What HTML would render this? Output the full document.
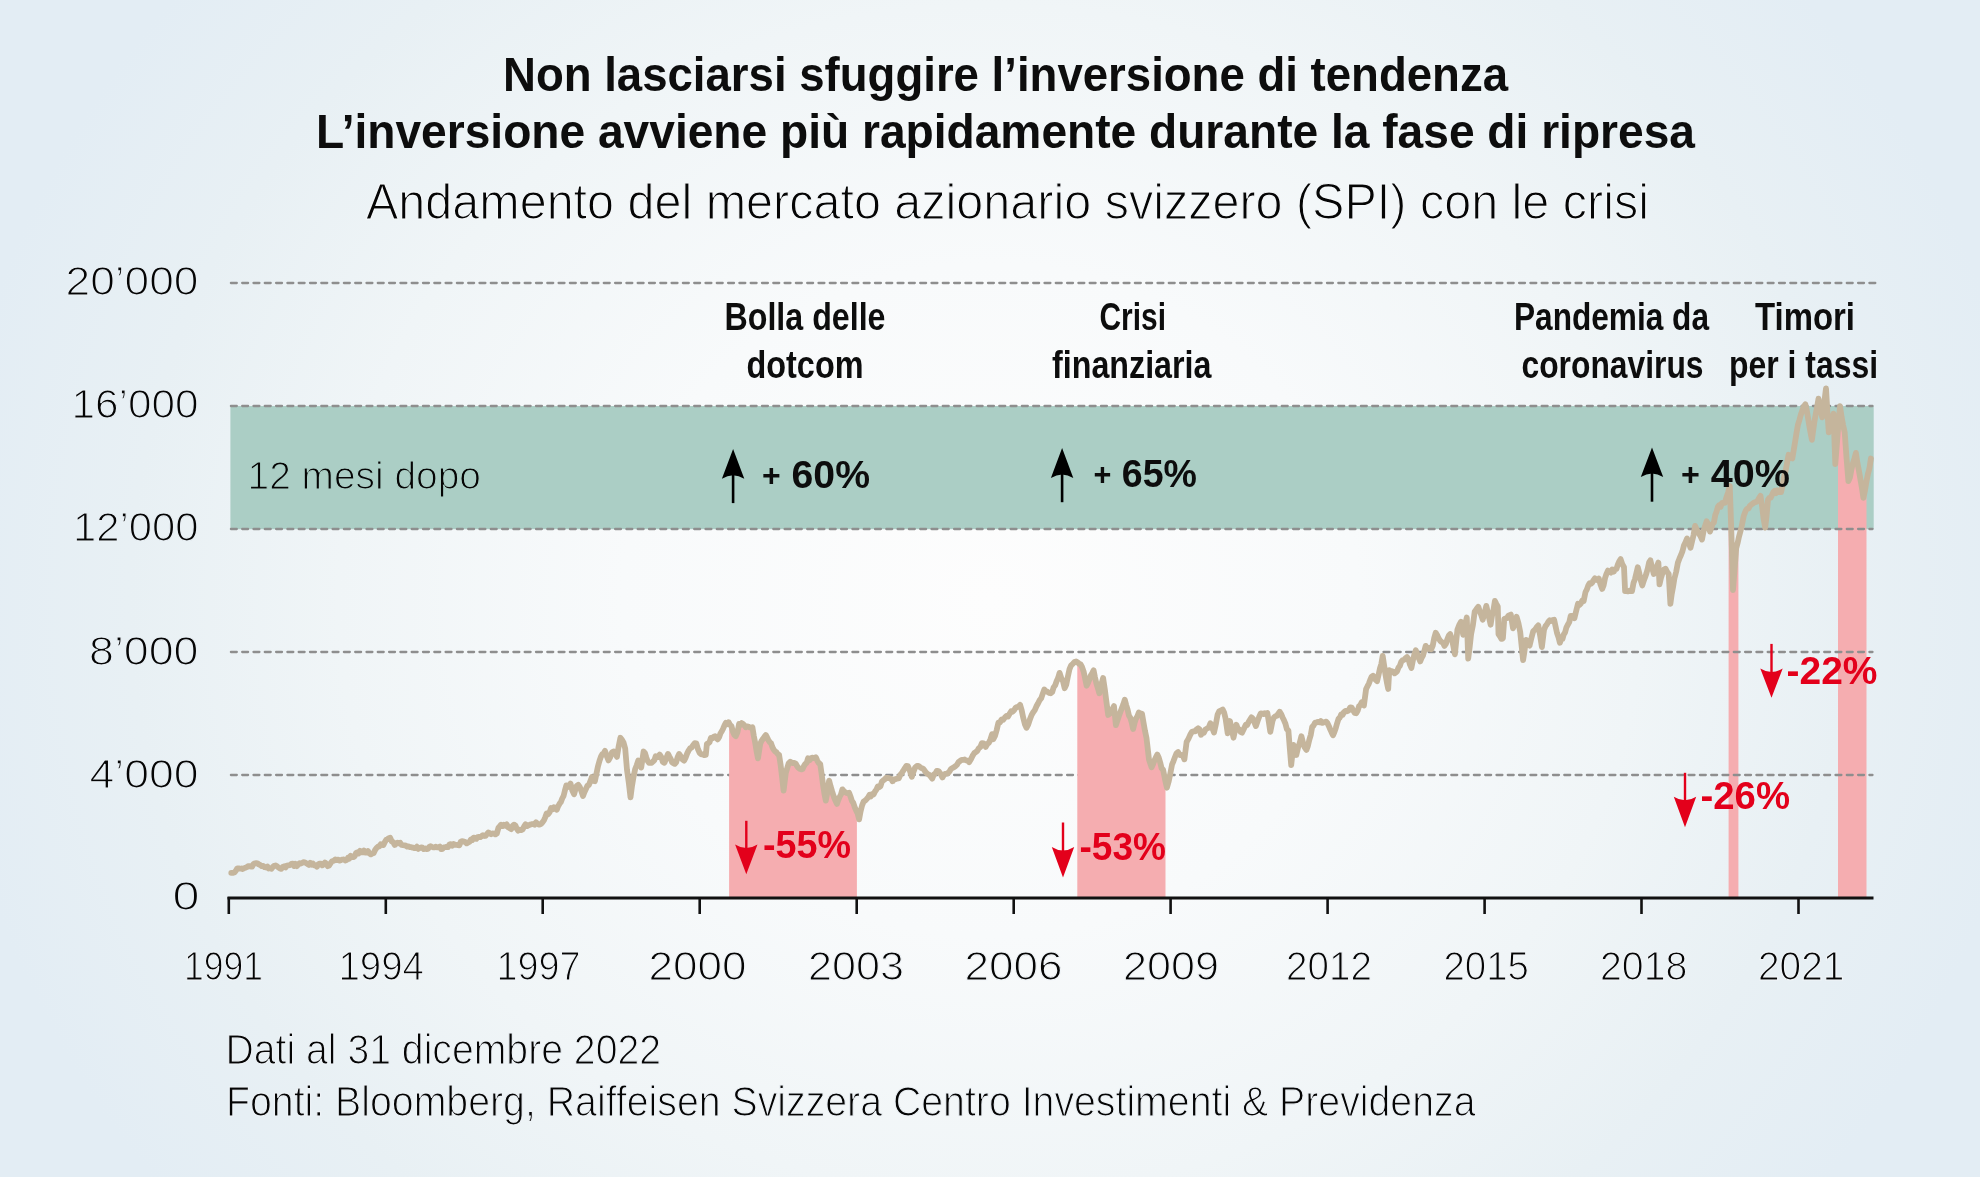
<!DOCTYPE html>
<html><head><meta charset="utf-8"><style>
html,body{margin:0;padding:0;width:1980px;height:1177px;overflow:hidden;}
body{background:radial-gradient(ellipse 1050px 960px at 990px 600px,#fdfdfd 0%,#f8fafb 35%,#f0f5f7 62%,#e8f0f4 82%,#e3edf4 100%);}
svg{position:absolute;left:0;top:0;will-change:transform;}
text{font-family:"Liberation Sans",sans-serif;}
</style></head><body>
<svg width="1980" height="1177" viewBox="0 0 1980 1177">
<rect x="230.4" y="406" width="1643.3" height="123.2" fill="#abcec5"/>
<polygon points="1728.6,898.0 1728.6,490.1 1729.8,486.0 1731.5,537.0 1733.0,590.0 1736.2,548.3 1738.4,539.5 1738.4,898.0" fill="#f5adb0"/>
<polygon points="1838.0,898.0 1838.0,430.8 1840.0,406.2 1844.7,432.4 1848.4,481.0 1855.9,452.9 1863.4,497.8 1866.5,481.6 1866.5,898.0" fill="#f5adb0"/>
<line x1="230.9" y1="283" x2="1876.5" y2="283" stroke="#8e8e8e" stroke-width="2.3" stroke-linecap="round" stroke-dasharray="5.9 5.4"/>
<line x1="230.9" y1="406" x2="1872.5" y2="406" stroke="#8e8e8e" stroke-width="2.3" stroke-linecap="round" stroke-dasharray="5.9 5.4"/>
<line x1="230.9" y1="529" x2="1872.5" y2="529" stroke="#8e8e8e" stroke-width="2.3" stroke-linecap="round" stroke-dasharray="5.9 5.4"/>
<line x1="230.9" y1="652" x2="1872.5" y2="652" stroke="#8e8e8e" stroke-width="2.3" stroke-linecap="round" stroke-dasharray="5.9 5.4"/>
<line x1="230.9" y1="775" x2="1872.5" y2="775" stroke="#8e8e8e" stroke-width="2.3" stroke-linecap="round" stroke-dasharray="5.9 5.4"/>
<polygon points="729.1,898.0 729.1,723.2 735.8,736.1 739.1,723.9 745.8,727.2 752.4,727.2 758.0,758.3 760.2,743.9 765.8,735.0 772.4,747.2 779.1,755.0 783.6,790.6 785.8,772.8 790.2,761.7 801.3,769.4 808.0,758.3 815.8,757.2 820.2,763.9 825.8,800.6 829.1,780.6 836.9,803.9 842.4,789.4 849.1,792.8 854.7,807.2 856.9,813.3 856.9,898.0" fill="#f5adb0"/>
<polygon points="1077.3,898.0 1077.3,662.6 1082.1,667.2 1086.6,685.7 1093.6,670.4 1099.3,693.3 1103.1,678.0 1108.2,715.0 1114.0,706.1 1115.9,725.2 1124.8,699.7 1133.1,729.0 1138.8,712.5 1142.0,713.7 1146.5,738.0 1149.0,759.6 1151.6,767.3 1157.3,754.5 1163.1,769.8 1165.5,781.1 1165.5,898.0" fill="#f5adb0"/>
<line x1="227.5" y1="898" x2="1873.5" y2="898" stroke="#111" stroke-width="2.8"/>
<line x1="228.8" y1="897" x2="228.8" y2="914" stroke="#111" stroke-width="2.6"/>
<line x1="385.8" y1="897" x2="385.8" y2="914" stroke="#111" stroke-width="2.6"/>
<line x1="542.7" y1="897" x2="542.7" y2="914" stroke="#111" stroke-width="2.6"/>
<line x1="699.7" y1="897" x2="699.7" y2="914" stroke="#111" stroke-width="2.6"/>
<line x1="856.7" y1="897" x2="856.7" y2="914" stroke="#111" stroke-width="2.6"/>
<line x1="1013.7" y1="897" x2="1013.7" y2="914" stroke="#111" stroke-width="2.6"/>
<line x1="1170.6" y1="897" x2="1170.6" y2="914" stroke="#111" stroke-width="2.6"/>
<line x1="1327.6" y1="897" x2="1327.6" y2="914" stroke="#111" stroke-width="2.6"/>
<line x1="1484.6" y1="897" x2="1484.6" y2="914" stroke="#111" stroke-width="2.6"/>
<line x1="1641.5" y1="897" x2="1641.5" y2="914" stroke="#111" stroke-width="2.6"/>
<line x1="1798.5" y1="897" x2="1798.5" y2="914" stroke="#111" stroke-width="2.6"/>
<path d="M231.3 872.8 L233.0 872.9 L234.7 872.2 L236.0 870.5 L237.3 868.4 L238.6 868.3 L239.9 868.7 L241.3 868.5 L242.6 869.0 L244.0 868.2 L245.3 867.8 L246.7 867.2 L248.0 866.1 L249.4 866.2 L250.7 866.5 L252.1 866.6 L253.4 864.2 L254.8 863.3 L256.1 863.2 L257.5 863.4 L258.8 864.4 L260.2 865.0 L261.7 866.1 L263.2 865.9 L264.7 867.2 L266.1 867.5 L267.4 866.5 L268.8 868.5 L270.1 868.2 L271.5 868.7 L272.8 867.0 L274.2 865.8 L275.5 865.5 L276.9 866.1 L278.4 867.5 L279.8 868.5 L281.3 868.9 L282.7 867.0 L284.2 866.3 L285.6 867.4 L287.0 865.5 L288.4 865.3 L289.9 865.1 L291.3 863.9 L292.7 863.7 L294.1 866.0 L295.5 863.9 L296.9 866.1 L298.2 864.5 L299.6 863.2 L300.9 863.6 L302.3 862.8 L303.6 862.2 L304.9 862.3 L306.2 863.2 L307.6 864.0 L308.9 864.9 L310.2 862.8 L311.5 864.6 L312.9 863.5 L314.2 865.4 L315.6 865.4 L316.9 866.7 L318.2 864.4 L319.6 863.7 L320.9 863.6 L322.3 865.3 L323.6 864.4 L325.0 862.5 L326.4 863.8 L327.7 866.2 L329.1 865.6 L330.7 863.0 L332.2 861.2 L333.8 860.7 L335.3 859.4 L336.9 860.0 L338.3 859.6 L339.7 860.6 L341.1 860.0 L342.4 859.6 L343.8 859.5 L345.2 860.5 L346.6 860.0 L348.0 857.8 L349.3 858.7 L350.7 855.8 L352.0 857.0 L353.3 857.1 L354.6 856.4 L356.0 853.1 L357.3 852.4 L358.6 853.4 L360.0 850.8 L361.3 852.2 L362.6 852.4 L364.0 850.6 L365.3 852.6 L366.7 852.5 L368.0 851.1 L369.4 853.4 L370.8 854.4 L372.2 853.6 L373.7 853.0 L375.1 850.0 L376.6 847.9 L378.0 846.7 L379.3 846.4 L380.7 844.2 L382.0 844.7 L383.4 845.1 L384.7 842.2 L386.1 839.9 L387.4 839.2 L388.8 838.3 L390.2 837.8 L391.7 841.4 L393.2 842.1 L394.7 845.0 L396.1 843.7 L397.4 842.6 L398.8 843.3 L400.2 842.8 L401.6 845.0 L403.0 845.2 L404.4 845.3 L405.8 845.6 L407.1 846.5 L408.5 846.4 L409.9 847.1 L411.3 847.2 L412.7 847.6 L414.1 848.1 L415.5 848.1 L416.9 846.7 L418.3 848.9 L419.7 847.9 L421.1 847.4 L422.4 847.7 L423.8 849.1 L425.2 848.5 L426.6 849.1 L428.0 848.9 L429.3 847.0 L430.6 846.1 L431.9 846.9 L433.2 847.4 L434.5 847.3 L435.8 846.7 L437.2 847.3 L438.5 847.4 L439.9 846.6 L441.2 849.1 L442.6 848.8 L443.9 847.4 L445.3 847.2 L446.6 846.9 L448.0 847.2 L449.4 844.5 L450.8 844.1 L452.3 845.7 L453.7 844.0 L455.1 844.9 L456.5 844.9 L457.9 845.0 L459.3 845.3 L460.7 841.9 L462.1 841.2 L463.5 841.3 L465.1 842.0 L466.6 843.4 L468.2 842.5 L469.6 841.7 L470.9 839.4 L472.3 840.1 L473.6 837.7 L475.0 837.9 L476.3 838.8 L477.7 837.1 L479.0 836.9 L480.4 837.0 L481.7 836.1 L483.0 835.1 L484.4 836.0 L485.7 835.8 L487.1 833.9 L488.4 832.4 L489.8 833.3 L491.2 834.2 L492.6 833.5 L494.0 833.6 L495.4 834.4 L496.8 833.6 L498.5 827.6 L499.8 826.2 L501.1 824.7 L502.5 826.0 L503.8 824.8 L505.1 825.8 L506.7 824.4 L508.2 827.3 L509.8 828.2 L511.2 829.1 L512.6 825.9 L514.0 824.6 L515.4 825.4 L516.8 828.8 L518.2 830.6 L519.7 829.6 L521.2 830.2 L522.6 829.5 L524.1 826.4 L525.6 824.3 L527.1 826.1 L528.6 825.3 L530.1 824.6 L531.6 824.2 L533.0 824.0 L534.5 824.8 L536.0 822.3 L537.3 823.5 L538.6 824.5 L539.9 824.5 L541.2 823.7 L542.5 822.3 L543.9 820.4 L545.3 817.1 L546.7 813.4 L548.2 814.2 L549.7 812.0 L551.1 808.1 L552.6 809.2 L554.0 807.2 L555.4 808.9 L556.8 809.8 L558.1 806.3 L559.5 803.8 L560.9 802.0 L562.2 798.5 L563.6 795.9 L564.9 790.6 L566.3 785.4 L567.7 787.0 L569.1 786.4 L570.5 783.6 L572.3 790.5 L574.1 794.3 L575.5 789.3 L576.8 785.8 L578.2 784.8 L579.8 786.9 L581.4 791.4 L583.0 796.1 L584.5 792.1 L585.9 789.0 L587.4 785.8 L588.9 784.9 L590.4 781.1 L591.9 777.1 L593.4 780.9 L594.9 781.2 L596.5 773.3 L598.0 766.2 L599.6 760.4 L601.0 756.5 L602.3 754.2 L603.6 753.6 L605.0 750.9 L606.8 756.2 L608.5 760.4 L610.3 757.1 L612.1 752.1 L613.7 751.5 L615.3 753.4 L616.9 756.9 L618.6 746.7 L620.4 737.8 L622.0 739.8 L623.6 742.7 L625.2 748.5 L627.0 769.9 L628.8 782.8 L630.5 797.3 L632.0 785.9 L633.5 777.1 L635.1 769.3 L636.7 765.2 L638.3 760.4 L639.8 761.8 L641.2 767.6 L643.6 751.5 L645.0 753.2 L646.3 757.4 L647.6 760.9 L649.0 762.8 L650.3 762.8 L651.7 762.8 L653.0 761.5 L654.4 760.2 L655.7 756.2 L657.0 756.8 L658.4 757.1 L659.7 754.5 L661.3 757.0 L662.8 762.0 L664.4 762.8 L666.2 758.4 L668.0 753.9 L669.3 756.4 L670.7 758.9 L672.0 762.1 L673.4 763.2 L674.7 763.9 L676.2 762.3 L677.6 757.2 L679.1 753.9 L680.8 756.4 L682.4 759.4 L684.1 760.6 L685.6 757.6 L687.2 753.4 L688.7 750.4 L690.2 748.3 L691.7 747.4 L693.2 745.1 L694.8 743.2 L696.3 743.3 L698.0 749.2 L699.6 752.8 L701.3 754.4 L702.8 754.3 L704.3 755.2 L705.8 755.0 L706.9 743.9 L708.2 743.3 L709.6 742.0 L710.9 738.0 L712.3 738.4 L713.6 736.7 L715.0 736.3 L716.4 738.1 L717.7 739.3 L719.1 737.2 L720.4 733.5 L721.8 731.3 L723.1 728.7 L724.5 725.3 L725.8 722.8 L727.2 724.1 L728.6 722.2 L730.0 724.8 L731.5 726.2 L732.9 731.5 L734.4 735.0 L735.8 736.1 L737.5 732.2 L739.1 723.9 L740.4 725.1 L741.8 723.1 L743.1 723.9 L744.5 725.4 L745.8 727.2 L747.1 726.4 L748.4 726.6 L749.8 727.4 L751.1 727.7 L752.4 727.2 L753.8 735.7 L755.2 742.8 L756.6 751.4 L758.0 758.3 L760.2 743.9 L761.6 740.7 L763.0 738.9 L764.4 736.8 L765.8 735.0 L767.1 737.4 L768.4 740.1 L769.8 742.3 L771.1 743.3 L772.4 747.2 L773.7 749.7 L775.1 751.3 L776.4 752.2 L777.8 754.1 L779.1 755.0 L780.6 764.7 L782.1 777.4 L783.6 790.6 L785.8 772.8 L787.3 767.8 L788.7 763.2 L790.2 761.7 L791.6 762.7 L793.0 763.2 L794.4 762.9 L795.8 763.8 L797.1 766.1 L798.5 767.8 L799.9 768.8 L801.3 769.4 L802.6 769.0 L804.0 765.9 L805.3 763.9 L806.7 762.7 L808.0 758.3 L809.6 760.3 L811.1 758.0 L812.7 757.6 L814.2 758.2 L815.8 757.2 L817.3 760.7 L818.7 763.0 L820.2 763.9 L821.6 773.8 L823.0 784.5 L824.4 793.6 L825.8 800.6 L827.5 791.5 L829.1 780.6 L830.7 786.7 L832.2 791.7 L833.8 796.6 L835.3 800.4 L836.9 803.9 L838.3 800.1 L839.6 797.0 L841.0 794.4 L842.4 789.4 L843.7 791.0 L845.1 792.2 L846.4 792.8 L847.8 793.1 L849.1 792.8 L850.5 796.5 L851.9 800.8 L853.3 802.9 L854.7 807.2 L856.2 810.7 L857.6 813.4 L859.1 819.4 L860.6 811.3 L862.1 805.4 L863.6 801.7 L865.1 800.6 L866.5 799.2 L868.0 797.6 L869.5 794.8 L870.9 796.3 L872.4 793.9 L873.7 794.4 L875.1 791.3 L876.4 789.7 L877.8 786.4 L879.1 787.2 L880.5 786.1 L881.9 781.7 L883.3 780.4 L884.7 779.4 L886.0 777.9 L887.3 777.8 L888.7 778.1 L890.0 778.5 L891.3 778.8 L892.6 781.3 L894.1 779.5 L895.7 779.1 L897.2 778.5 L898.8 778.4 L900.3 774.9 L901.8 773.0 L903.3 770.7 L904.9 768.1 L906.4 765.8 L907.9 766.0 L909.8 770.7 L911.8 776.8 L913.5 771.6 L915.2 767.4 L916.9 766.0 L918.4 766.0 L919.9 767.0 L921.5 768.2 L923.0 768.5 L924.5 770.5 L926.0 772.6 L927.6 773.9 L929.1 774.8 L930.7 776.5 L932.2 778.7 L933.8 774.6 L935.4 773.4 L936.9 770.8 L938.5 771.1 L940.5 773.8 L942.4 777.5 L943.8 775.0 L945.2 773.9 L946.7 773.6 L948.1 773.0 L949.5 771.4 L950.9 769.1 L952.4 768.0 L953.8 767.3 L955.4 766.3 L957.0 764.7 L958.6 762.1 L960.2 760.9 L961.7 759.8 L963.2 759.8 L964.7 759.5 L966.1 760.5 L967.6 760.7 L969.1 762.2 L970.8 759.5 L972.5 755.9 L974.2 753.2 L975.7 752.1 L977.3 750.9 L978.8 748.2 L980.4 746.9 L981.9 743.1 L983.8 743.3 L985.7 746.9 L987.3 744.0 L988.9 742.7 L990.5 739.2 L992.1 734.1 L993.3 739.2 L995.0 735.9 L996.7 730.0 L998.4 722.7 L1000.0 722.4 L1001.6 719.5 L1003.2 719.8 L1004.8 717.6 L1006.4 715.9 L1008.0 716.6 L1009.6 713.8 L1011.2 711.2 L1012.7 711.7 L1014.2 710.0 L1015.7 707.6 L1017.1 707.0 L1018.6 706.5 L1020.1 704.8 L1021.7 710.3 L1023.3 718.1 L1024.9 724.2 L1026.5 727.8 L1028.2 724.7 L1029.9 719.4 L1031.6 715.0 L1033.2 712.3 L1034.8 710.1 L1036.4 706.3 L1038.0 703.5 L1039.6 700.3 L1041.2 698.2 L1042.7 693.9 L1044.3 689.5 L1045.9 691.2 L1047.5 691.8 L1049.1 692.9 L1050.7 693.3 L1052.2 692.1 L1053.7 687.2 L1055.2 685.3 L1056.6 681.3 L1058.1 678.0 L1059.6 672.9 L1061.3 678.1 L1063.0 681.2 L1064.7 688.2 L1066.3 684.5 L1067.9 676.5 L1069.5 669.2 L1071.1 665.3 L1072.8 663.8 L1074.5 662.1 L1076.2 661.5 L1077.7 662.4 L1079.2 663.9 L1080.6 664.3 L1082.1 667.2 L1083.6 671.4 L1085.1 678.4 L1086.6 685.7 L1088.0 683.0 L1089.4 679.5 L1090.8 675.5 L1092.2 673.1 L1093.6 670.4 L1095.0 677.4 L1096.4 683.4 L1097.9 688.3 L1099.3 693.3 L1101.2 684.8 L1103.1 678.0 L1104.8 689.1 L1106.5 702.3 L1108.2 715.0 L1109.7 713.6 L1111.1 712.8 L1112.5 709.1 L1114.0 706.1 L1115.9 725.2 L1117.4 720.7 L1118.9 716.0 L1120.3 712.3 L1121.8 708.3 L1123.3 704.4 L1124.8 699.7 L1126.2 705.0 L1127.6 709.7 L1128.9 715.4 L1130.3 717.7 L1131.7 722.3 L1133.1 729.0 L1134.5 723.2 L1135.9 718.7 L1137.4 716.2 L1138.8 712.5 L1140.4 713.3 L1142.0 713.7 L1143.5 722.6 L1145.0 730.9 L1146.5 738.0 L1149.0 759.6 L1151.6 767.3 L1153.0 764.2 L1154.4 760.4 L1155.9 757.3 L1157.3 754.5 L1158.8 757.7 L1160.2 762.5 L1161.6 768.2 L1163.1 769.8 L1165.0 779.3 L1166.9 787.7 L1168.6 781.8 L1170.3 773.7 L1172.0 764.7 L1173.5 761.1 L1174.9 757.3 L1176.4 753.5 L1178.1 752.1 L1179.8 755.0 L1181.5 755.0 L1183.0 755.9 L1184.4 759.3 L1186.6 742.0 L1188.4 738.9 L1190.2 734.8 L1192.0 731.7 L1193.8 731.2 L1195.2 731.4 L1196.7 729.3 L1198.1 728.3 L1199.5 729.4 L1201.0 734.8 L1202.4 732.1 L1203.9 732.7 L1205.3 729.7 L1207.0 728.5 L1208.7 727.6 L1210.4 723.2 L1212.2 727.7 L1214.0 732.6 L1215.8 724.4 L1217.6 714.5 L1219.3 711.2 L1221.0 710.6 L1222.7 709.5 L1224.1 712.4 L1225.5 718.2 L1227.7 733.3 L1229.9 721.0 L1231.7 729.1 L1233.5 737.7 L1235.0 730.7 L1236.4 724.7 L1237.8 728.7 L1239.2 729.4 L1240.7 731.9 L1242.1 732.6 L1243.9 728.7 L1245.8 724.7 L1247.2 725.0 L1248.7 721.8 L1250.1 719.6 L1251.5 717.4 L1253.0 718.9 L1254.4 722.4 L1255.9 726.1 L1257.7 720.8 L1259.5 716.0 L1260.8 713.3 L1262.1 713.5 L1263.5 714.0 L1264.8 713.1 L1266.1 714.1 L1267.4 713.1 L1268.8 721.8 L1270.3 731.9 L1272.5 721.0 L1273.9 717.5 L1275.4 716.3 L1276.8 715.8 L1278.3 713.6 L1279.7 711.7 L1281.1 714.0 L1282.6 717.5 L1284.0 720.3 L1285.5 723.9 L1286.9 729.2 L1288.4 730.4 L1289.8 748.2 L1291.2 765.1 L1293.4 744.9 L1294.8 749.3 L1296.3 755.0 L1298.0 747.9 L1299.7 742.9 L1301.4 736.2 L1303.1 743.0 L1304.7 747.4 L1306.4 749.9 L1307.9 745.9 L1309.3 739.8 L1310.8 734.8 L1312.2 726.8 L1313.6 725.5 L1315.1 722.7 L1316.5 722.6 L1317.9 721.8 L1319.4 722.4 L1320.8 721.0 L1322.1 722.9 L1323.5 722.4 L1324.8 722.0 L1326.2 721.7 L1327.5 723.2 L1328.9 726.2 L1330.2 729.3 L1331.6 732.4 L1333.0 735.3 L1334.4 732.1 L1335.8 728.1 L1337.1 723.3 L1338.5 718.8 L1339.9 717.5 L1341.2 714.4 L1342.6 714.9 L1344.0 712.2 L1345.5 710.8 L1347.1 711.3 L1348.6 710.4 L1350.2 707.4 L1351.7 707.7 L1353.2 710.5 L1354.7 712.9 L1356.2 713.3 L1357.6 710.9 L1359.0 706.3 L1360.3 705.2 L1361.7 702.2 L1363.9 705.5 L1366.1 689.0 L1367.5 686.2 L1368.8 683.8 L1370.2 679.9 L1371.6 676.8 L1373.0 675.7 L1374.3 677.2 L1375.7 679.9 L1377.1 681.2 L1378.5 675.2 L1379.9 668.6 L1381.3 664.0 L1382.7 655.9 L1384.1 665.3 L1385.5 674.7 L1386.8 682.1 L1388.2 689.0 L1389.3 670.2 L1390.6 671.1 L1391.9 671.2 L1393.3 671.7 L1394.6 673.3 L1395.9 672.4 L1397.2 671.1 L1398.5 667.5 L1399.9 665.7 L1401.2 661.9 L1402.5 660.3 L1404.0 659.9 L1405.5 658.2 L1407.0 657.0 L1408.5 659.3 L1409.9 664.4 L1411.4 668.0 L1412.9 660.4 L1414.3 654.7 L1415.8 650.3 L1417.3 654.2 L1418.7 657.9 L1420.2 661.4 L1421.6 657.9 L1423.0 655.6 L1424.3 650.9 L1425.7 645.9 L1427.1 648.6 L1428.5 648.9 L1429.8 647.7 L1431.2 649.2 L1432.7 645.9 L1434.2 638.1 L1435.7 632.7 L1437.2 635.3 L1438.6 638.4 L1440.1 640.7 L1441.6 642.0 L1443.0 642.8 L1444.5 645.9 L1445.9 643.9 L1447.3 639.3 L1448.8 635.5 L1450.2 634.1 L1451.8 638.6 L1453.3 645.8 L1454.9 654.3 L1457.4 629.8 L1459.2 624.9 L1461.0 621.8 L1463.2 634.8 L1465.0 625.4 L1466.8 617.5 L1468.2 658.6 L1469.7 646.8 L1471.1 634.1 L1472.9 625.1 L1474.7 611.7 L1476.5 609.1 L1478.3 606.7 L1479.8 611.6 L1481.2 614.9 L1482.7 619.7 L1484.5 613.2 L1486.3 605.9 L1487.7 612.0 L1489.2 618.3 L1490.6 624.7 L1492.0 615.9 L1493.5 609.7 L1494.9 600.9 L1496.3 603.8 L1497.8 606.7 L1498.5 634.1 L1500.0 636.4 L1501.4 638.9 L1502.9 638.4 L1504.3 618.9 L1505.6 618.4 L1506.9 618.2 L1508.2 616.0 L1509.5 615.1 L1510.8 614.6 L1513.0 628.3 L1514.8 623.2 L1516.6 616.8 L1518.4 623.0 L1520.2 631.9 L1521.7 646.7 L1523.1 660.1 L1524.5 651.1 L1526.0 639.9 L1527.8 644.5 L1529.6 645.6 L1531.4 638.1 L1533.2 631.2 L1534.9 629.8 L1536.6 627.3 L1538.3 625.4 L1540.1 635.6 L1541.9 647.1 L1544.0 629.8 L1545.5 626.1 L1546.9 624.4 L1548.4 621.8 L1549.8 620.3 L1551.2 621.0 L1552.7 620.1 L1554.1 619.7 L1555.5 626.1 L1557.0 633.0 L1558.5 637.3 L1559.9 642.8 L1561.2 639.1 L1562.5 638.9 L1563.8 634.3 L1565.1 632.3 L1566.4 627.6 L1567.8 624.7 L1569.3 622.1 L1570.7 616.0 L1572.6 616.0 L1574.4 618.2 L1576.2 610.9 L1578.0 603.8 L1579.4 605.0 L1580.8 603.5 L1582.3 600.4 L1583.7 600.9 L1585.5 592.0 L1586.9 589.4 L1588.2 585.7 L1589.6 583.2 L1590.9 583.9 L1592.2 582.7 L1593.5 580.2 L1594.9 578.4 L1596.2 579.9 L1597.5 580.0 L1598.8 578.6 L1600.5 584.4 L1602.2 588.9 L1603.6 585.5 L1605.1 577.9 L1606.5 573.8 L1607.9 570.6 L1609.4 571.8 L1610.8 572.6 L1612.2 569.5 L1613.7 571.7 L1615.1 569.3 L1616.5 568.9 L1617.8 564.7 L1619.2 561.5 L1620.6 559.1 L1622.3 564.1 L1624.0 567.2 L1625.1 591.2 L1626.5 591.0 L1627.9 591.4 L1629.2 590.7 L1630.6 591.1 L1632.0 591.2 L1633.5 583.0 L1634.9 579.2 L1636.3 573.5 L1637.8 567.2 L1639.3 573.3 L1640.8 580.5 L1642.3 585.5 L1643.7 580.9 L1645.0 577.5 L1646.3 573.7 L1647.7 568.8 L1649.1 562.3 L1650.4 560.3 L1652.1 567.6 L1653.8 574.0 L1655.3 570.0 L1656.9 566.6 L1658.4 562.6 L1659.5 584.4 L1661.0 577.9 L1662.6 572.9 L1664.1 569.4 L1665.6 568.8 L1667.2 572.0 L1668.7 574.0 L1670.4 603.9 L1671.7 594.2 L1673.1 586.7 L1674.4 578.6 L1676.2 571.6 L1677.9 562.6 L1679.4 558.7 L1681.0 555.0 L1682.5 551.1 L1684.0 545.2 L1685.6 542.0 L1687.1 538.5 L1688.8 542.7 L1690.5 547.7 L1692.0 541.6 L1693.6 534.8 L1695.1 525.9 L1696.5 529.2 L1697.9 531.7 L1699.2 534.0 L1700.6 536.4 L1702.0 539.6 L1703.5 531.4 L1705.1 525.9 L1706.6 521.3 L1708.3 524.9 L1710.0 531.6 L1711.3 527.9 L1712.6 523.9 L1713.9 522.5 L1715.3 514.9 L1716.6 511.6 L1717.9 506.8 L1719.2 505.2 L1720.6 506.8 L1722.1 502.8 L1723.5 502.9 L1724.9 502.9 L1726.5 497.1 L1728.2 492.1 L1729.8 486.0 L1731.5 537.0 L1733.0 590.0 L1734.6 569.3 L1736.2 548.3 L1737.6 543.1 L1739.0 536.7 L1740.4 531.5 L1741.8 525.8 L1743.7 516.1 L1745.6 510.9 L1747.1 508.8 L1748.6 508.4 L1750.0 505.7 L1751.5 504.5 L1753.0 503.4 L1754.5 502.3 L1756.0 502.0 L1757.5 501.1 L1759.0 498.1 L1760.5 495.9 L1762.1 506.5 L1763.6 518.8 L1765.2 527.7 L1766.6 515.7 L1768.0 499.7 L1769.3 497.8 L1770.7 497.7 L1772.0 495.0 L1773.4 492.1 L1774.7 490.8 L1776.1 493.1 L1777.4 490.3 L1779.2 492.1 L1781.1 492.2 L1782.6 484.8 L1784.1 476.5 L1785.6 470.8 L1787.1 462.7 L1788.6 454.8 L1790.4 457.6 L1792.3 458.5 L1793.7 450.3 L1795.1 441.8 L1796.5 433.0 L1797.9 424.9 L1799.4 420.1 L1800.9 414.5 L1802.4 410.3 L1803.9 406.2 L1805.4 404.3 L1806.7 409.9 L1808.0 417.7 L1809.3 425.8 L1810.6 432.9 L1811.9 439.8 L1813.2 430.4 L1814.5 421.2 L1815.9 413.3 L1817.2 406.4 L1818.5 398.7 L1820.3 408.1 L1822.2 417.4 L1824.1 403.8 L1826.0 388.4 L1827.4 411.5 L1828.8 432.4 L1830.4 427.1 L1831.9 421.9 L1833.5 413.7 L1835.3 464.1 L1836.9 443.8 L1838.4 424.1 L1840.0 406.2 L1841.6 417.1 L1843.1 425.0 L1844.7 432.4 L1846.6 458.8 L1848.4 481.0 L1849.9 477.6 L1851.4 469.7 L1852.9 463.4 L1854.4 458.6 L1855.9 452.9 L1857.4 462.9 L1858.9 470.5 L1860.4 479.2 L1861.9 487.8 L1863.4 497.8 L1864.9 490.8 L1866.4 481.8 L1867.9 474.1 L1869.4 468.6 L1870.9 458.5" fill="none" stroke="#c5b59c" stroke-width="5.8" stroke-linejoin="round" stroke-linecap="round"/>
<line x1="733.1" y1="460.9" x2="733.1" y2="503.1" stroke="#000" stroke-width="2.6"/><path d="M733.1 448.9 L744.3 478.8 Q733.1 471.8 721.9 478.8 Z" fill="#000"/>
<line x1="1062.1" y1="460.0" x2="1062.1" y2="502.2" stroke="#000" stroke-width="2.6"/><path d="M1062.1 448.0 L1073.3 477.9 Q1062.1 470.9 1050.9 477.9 Z" fill="#000"/>
<line x1="1652.0" y1="459.6" x2="1652.0" y2="501.7" stroke="#000" stroke-width="2.6"/><path d="M1652.0 447.6 L1663.2 477.1 Q1652.0 470.1 1640.8 477.1 Z" fill="#000"/>
<line x1="746.3" y1="820.8" x2="746.3" y2="862.3" stroke="#e3001b" stroke-width="2.4"/><path d="M746.3 874.3 L757.5 844.5 Q746.3 851.5 735.1 844.5 Z" fill="#e3001b"/>
<line x1="1063.0" y1="822.5" x2="1063.0" y2="865.6" stroke="#e3001b" stroke-width="2.4"/><path d="M1063.0 877.6 L1074.2 847.0 Q1063.0 854.0 1051.8 847.0 Z" fill="#e3001b"/>
<line x1="1685.0" y1="772.8" x2="1685.0" y2="815.2" stroke="#e3001b" stroke-width="2.4"/><path d="M1685.0 827.2 L1696.2 796.8 Q1685.0 803.8 1673.8 796.8 Z" fill="#e3001b"/>
<line x1="1771.5" y1="643.9" x2="1771.5" y2="685.8" stroke="#e3001b" stroke-width="2.4"/><path d="M1771.5 697.8 L1782.7 668.4 Q1771.5 675.4 1760.3 668.4 Z" fill="#e3001b"/>
<text x="503.0" y="90.5" font-size="48.0" font-weight="bold" fill="#0d0d0d" text-anchor="start" textLength="1005.0" lengthAdjust="spacingAndGlyphs">Non lasciarsi sfuggire l’inversione di tendenza</text>
<text x="316.0" y="148.0" font-size="48.0" font-weight="bold" fill="#0d0d0d" text-anchor="start" textLength="1379.0" lengthAdjust="spacingAndGlyphs">L’inversione avviene più rapidamente durante la fase di ripresa</text>
<text x="366.0" y="218.8" font-size="49.5" font-weight="normal" fill="#050505" text-anchor="start" textLength="1283.0" lengthAdjust="spacingAndGlyphs" stroke="#f5f8fa" stroke-width="1.2">Andamento del mercato azionario svizzero (SPI) con le crisi</text>
<text x="65.5" y="295.4" font-size="40.0" font-weight="normal" fill="#050505" text-anchor="start" textLength="133.0" lengthAdjust="spacingAndGlyphs" stroke="#e9f0f5" stroke-width="1.2">20’000</text>
<text x="71.5" y="418.2" font-size="40.0" font-weight="normal" fill="#050505" text-anchor="start" textLength="127.0" lengthAdjust="spacingAndGlyphs" stroke="#e9f0f5" stroke-width="1.2">16’000</text>
<text x="73.0" y="541.0" font-size="40.0" font-weight="normal" fill="#050505" text-anchor="start" textLength="125.5" lengthAdjust="spacingAndGlyphs" stroke="#e9f0f5" stroke-width="1.2">12’000</text>
<text x="89.0" y="664.6" font-size="40.0" font-weight="normal" fill="#050505" text-anchor="start" textLength="109.5" lengthAdjust="spacingAndGlyphs" stroke="#e9f0f5" stroke-width="1.2">8’000</text>
<text x="89.5" y="787.6" font-size="40.0" font-weight="normal" fill="#050505" text-anchor="start" textLength="109.0" lengthAdjust="spacingAndGlyphs" stroke="#e9f0f5" stroke-width="1.2">4’000</text>
<text x="172.5" y="910.4" font-size="40.0" font-weight="normal" fill="#050505" text-anchor="start" textLength="27.0" lengthAdjust="spacingAndGlyphs" stroke="#e9f0f5" stroke-width="1.2">0</text>
<text x="184.0" y="980.1" font-size="40.5" font-weight="normal" fill="#050505" text-anchor="start" textLength="79.0" lengthAdjust="spacingAndGlyphs" stroke="#f1f5f8" stroke-width="1.2">1991</text>
<text x="338.5" y="980.1" font-size="40.5" font-weight="normal" fill="#050505" text-anchor="start" textLength="85.5" lengthAdjust="spacingAndGlyphs" stroke="#f1f5f8" stroke-width="1.2">1994</text>
<text x="496.5" y="980.1" font-size="40.5" font-weight="normal" fill="#050505" text-anchor="start" textLength="84.0" lengthAdjust="spacingAndGlyphs" stroke="#f1f5f8" stroke-width="1.2">1997</text>
<text x="648.5" y="980.1" font-size="40.5" font-weight="normal" fill="#050505" text-anchor="start" textLength="98.0" lengthAdjust="spacingAndGlyphs" stroke="#f1f5f8" stroke-width="1.2">2000</text>
<text x="808.0" y="980.1" font-size="40.5" font-weight="normal" fill="#050505" text-anchor="start" textLength="96.0" lengthAdjust="spacingAndGlyphs" stroke="#f1f5f8" stroke-width="1.2">2003</text>
<text x="964.5" y="980.1" font-size="40.5" font-weight="normal" fill="#050505" text-anchor="start" textLength="98.0" lengthAdjust="spacingAndGlyphs" stroke="#f1f5f8" stroke-width="1.2">2006</text>
<text x="1123.0" y="980.1" font-size="40.5" font-weight="normal" fill="#050505" text-anchor="start" textLength="96.0" lengthAdjust="spacingAndGlyphs" stroke="#f1f5f8" stroke-width="1.2">2009</text>
<text x="1286.0" y="980.1" font-size="40.5" font-weight="normal" fill="#050505" text-anchor="start" textLength="86.0" lengthAdjust="spacingAndGlyphs" stroke="#f1f5f8" stroke-width="1.2">2012</text>
<text x="1443.5" y="980.1" font-size="40.5" font-weight="normal" fill="#050505" text-anchor="start" textLength="85.5" lengthAdjust="spacingAndGlyphs" stroke="#f1f5f8" stroke-width="1.2">2015</text>
<text x="1600.0" y="980.1" font-size="40.5" font-weight="normal" fill="#050505" text-anchor="start" textLength="87.5" lengthAdjust="spacingAndGlyphs" stroke="#f1f5f8" stroke-width="1.2">2018</text>
<text x="1758.0" y="980.1" font-size="40.5" font-weight="normal" fill="#050505" text-anchor="start" textLength="86.5" lengthAdjust="spacingAndGlyphs" stroke="#f1f5f8" stroke-width="1.2">2021</text>
<text x="247.5" y="488.8" font-size="39.0" font-weight="normal" fill="#050505" text-anchor="start" textLength="233.5" lengthAdjust="spacingAndGlyphs" stroke="#abcec5" stroke-width="1.2">12 mesi dopo</text>
<text x="724.5" y="330.2" font-size="38.0" font-weight="bold" fill="#0d0d0d" text-anchor="start" textLength="161.0" lengthAdjust="spacingAndGlyphs">Bolla delle</text>
<text x="746.5" y="377.9" font-size="38.0" font-weight="bold" fill="#0d0d0d" text-anchor="start" textLength="117.0" lengthAdjust="spacingAndGlyphs">dotcom</text>
<text x="1099.5" y="330.2" font-size="38.0" font-weight="bold" fill="#0d0d0d" text-anchor="start" textLength="66.5" lengthAdjust="spacingAndGlyphs">Crisi</text>
<text x="1052.0" y="377.9" font-size="38.0" font-weight="bold" fill="#0d0d0d" text-anchor="start" textLength="159.5" lengthAdjust="spacingAndGlyphs">finanziaria</text>
<text x="1514.0" y="330.4" font-size="38.0" font-weight="bold" fill="#0d0d0d" text-anchor="start" textLength="195.0" lengthAdjust="spacingAndGlyphs">Pandemia da</text>
<text x="1521.5" y="377.6" font-size="38.0" font-weight="bold" fill="#0d0d0d" text-anchor="start" textLength="182.0" lengthAdjust="spacingAndGlyphs">coronavirus</text>
<text x="1755.0" y="330.4" font-size="38.0" font-weight="bold" fill="#0d0d0d" text-anchor="start" textLength="100.0" lengthAdjust="spacingAndGlyphs">Timori</text>
<text x="1729.0" y="377.6" font-size="38.0" font-weight="bold" fill="#0d0d0d" text-anchor="start" textLength="149.0" lengthAdjust="spacingAndGlyphs">per i tassi</text>
<text x="762.0" y="488.1" font-size="38.0" font-weight="bold" fill="#0d0d0d" text-anchor="start" textLength="108.0" lengthAdjust="spacingAndGlyphs"><tspan font-size="31" dy="-2.5">+</tspan><tspan dy="2.5"> 60%</tspan></text>
<text x="1093.5" y="487.2" font-size="38.0" font-weight="bold" fill="#0d0d0d" text-anchor="start" textLength="103.5" lengthAdjust="spacingAndGlyphs"><tspan font-size="31" dy="-2.5">+</tspan><tspan dy="2.5"> 65%</tspan></text>
<text x="1681.0" y="487.0" font-size="38.0" font-weight="bold" fill="#0d0d0d" text-anchor="start" textLength="109.0" lengthAdjust="spacingAndGlyphs"><tspan font-size="31" dy="-2.5">+</tspan><tspan dy="2.5"> 40%</tspan></text>
<text x="763.0" y="858.3" font-size="38.0" font-weight="bold" fill="#e3001b" text-anchor="start" textLength="88.0" lengthAdjust="spacingAndGlyphs">-55%</text>
<text x="1079.5" y="859.8" font-size="38.0" font-weight="bold" fill="#e3001b" text-anchor="start" textLength="86.5" lengthAdjust="spacingAndGlyphs">-53%</text>
<text x="1700.5" y="809.3" font-size="38.0" font-weight="bold" fill="#e3001b" text-anchor="start" textLength="89.5" lengthAdjust="spacingAndGlyphs">-26%</text>
<text x="1786.5" y="684.4" font-size="38.0" font-weight="bold" fill="#e3001b" text-anchor="start" textLength="91.0" lengthAdjust="spacingAndGlyphs">-22%</text>
<text x="225.5" y="1064.2" font-size="42.5" font-weight="normal" fill="#050505" text-anchor="start" textLength="435.5" lengthAdjust="spacingAndGlyphs" stroke="#eef3f7" stroke-width="1.2">Dati al 31 dicembre 2022</text>
<text x="226.0" y="1116.0" font-size="42.5" font-weight="normal" fill="#050505" text-anchor="start" textLength="1249.5" lengthAdjust="spacingAndGlyphs" stroke="#eef3f7" stroke-width="1.2">Fonti: Bloomberg, Raiffeisen Svizzera Centro Investimenti &amp; Previdenza</text>
</svg>
</body></html>
